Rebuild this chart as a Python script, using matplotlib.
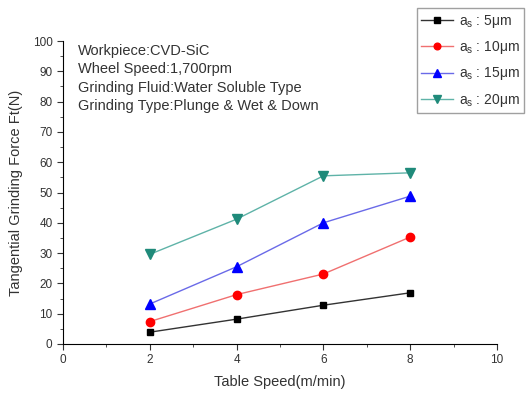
import matplotlib
matplotlib.use("Agg")
import matplotlib.pyplot as plt
from matplotlib.ticker import MultipleLocator

speeds = [2, 4, 6, 8]
f_5 = [3.9, 8.2, 12.8, 16.9]
f_10 = [7.4, 16.3, 23.1, 35.3]
f_15 = [13.2, 25.5, 40.0, 48.8]
f_20 = [29.6, 41.2, 55.5, 56.5]
labels = [r"a$_\mathregular{s}$ : 5$\mathregular{\mu}$m", r"a$_\mathregular{s}$ : 10$\mathregular{\mu}$m",
          r"a$_\mathregular{s}$ : 15$\mathregular{\mu}$m", r"a$_\mathregular{s}$ : 20$\mathregular{\mu}$m"]
notes = ["Workpiece:CVD-SiC", "Wheel Speed:1,700rpm",
         "Grinding Fluid:Water Soluble Type", "Grinding Type:Plunge & Wet & Down"]

plt.rcParams['font.family'] = ['Liberation Sans', 'DejaVu Sans']
fig = plt.figure(figsize=(5.26, 3.96), dpi=100)
ax = fig.add_axes([63/526, 1-344/396, (497-63)/526, (344-41)/396])

styles = [("black", "s", 5), ("red", "o", 6), ("blue", "^", 6.5), ("#1f8a7a", "v", 6.5)]
lcolors = ["#333333", "#f07070", "#6a6ae8", "#5fb3a8"]
for vals, (c, m, ms), lc, lab in zip([f_5, f_10, f_15, f_20], styles, lcolors, labels):
    ax.plot(speeds, vals, color=lc, lw=1.0, marker=m, ms=ms, mfc=c, mec=c, label=lab)

ax.set_xlim(0, 10)
ax.set_ylim(0, 100)
ax.xaxis.set_major_locator(MultipleLocator(2))
ax.xaxis.set_minor_locator(MultipleLocator(1))
ax.yaxis.set_major_locator(MultipleLocator(10))
ax.yaxis.set_minor_locator(MultipleLocator(5))
for s in ["top", "right"]:
    ax.spines[s].set_visible(False)
ax.tick_params(which="major", direction="out", length=4, labelsize=8.5, colors="#333333")
ax.tick_params(which="minor", direction="out", length=2.5, colors="#333333")
ax.set_xlabel("Table Speed(m/min)", fontsize=10.5, color="#333333", labelpad=6)
ax.set_ylabel("Tangential Grinding Force Ft(N)", fontsize=10.5, color="#333333", labelpad=7)

ax.text(0.035, 0.99, "\n".join(notes), transform=ax.transAxes, va="top", ha="left",
        fontsize=10.5, color="#333333", linespacing=1.4)

leg = fig.legend(loc="upper right", bbox_to_anchor=(525/526, 1-7/396), fontsize=10,
                 frameon=True, fancybox=False, edgecolor="#888888", labelspacing=0.68,
                 handlelength=2.3, handletextpad=0.4, borderpad=0.3, borderaxespad=0.1,
                 markerscale=0.8)
for t in leg.get_texts():
    t.set_color("#333333")

fig.savefig("out.png", dpi=100)
